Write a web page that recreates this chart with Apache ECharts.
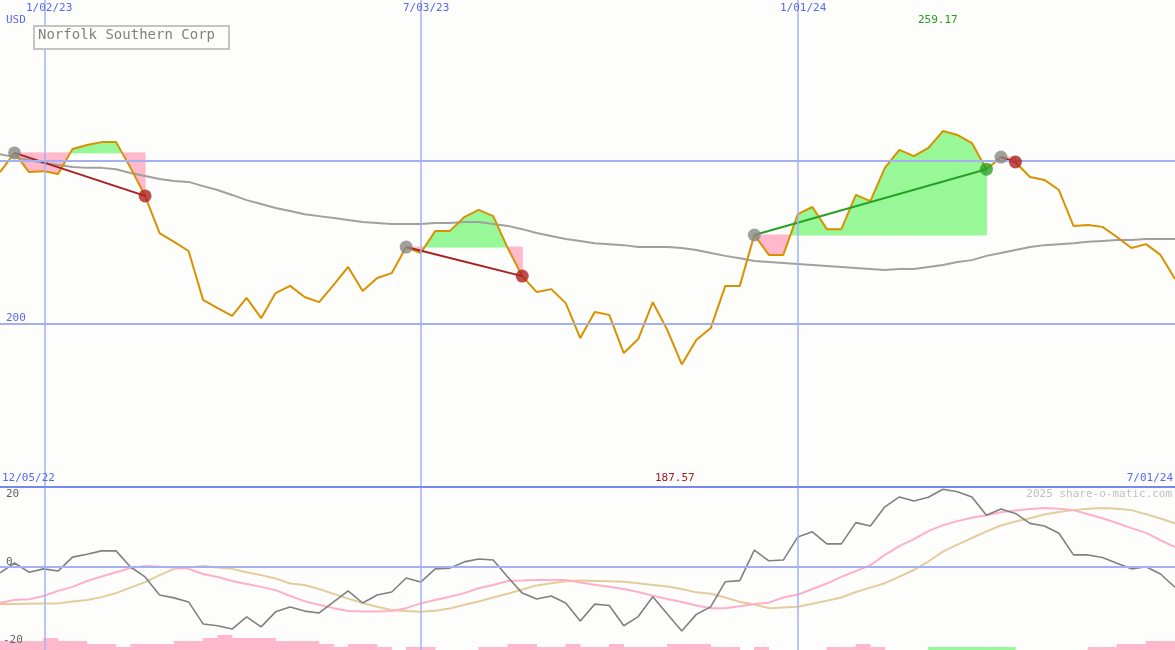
<!DOCTYPE html>
<html><head><meta charset="utf-8">
<script src="https://cdn.jsdelivr.net/npm/echarts@6/dist/echarts.min.js"></script>
<style>html,body{margin:0;padding:0;background:#fdfdfb}#c{width:1175px;height:650px}</style>
</head><body><div id="c"></div>
<script>
// weekly closes, 12/05/22 .. 7/01/24 (index 0..81)
const price = [246.6,252.5,246.6,246.9,246.0,253.7,254.9,255.8,255.8,247.9,239.3,227.9,225.2,222.4,207.4,204.9,202.5,208.0,201.8,209.5,211.7,208.3,206.7,212.0,217.5,210.1,214.1,215.6,223.6,221.8,228.5,228.5,232.8,235.0,233.1,223.3,214.7,209.8,210.7,206.4,195.7,203.7,202.8,191.1,195.4,206.7,198.2,187.6,195.1,198.8,211.7,211.7,227.3,221.2,221.2,233.7,235.9,229.1,229.1,239.6,237.7,247.9,253.4,251.5,254.0,259.2,258.0,255.5,247.5,251.2,249.7,245.1,244.2,241.1,230.1,230.4,229.8,226.7,223.3,224.5,221.2,213.8];
const movingAvg = [252.1,251.2,250.3,249.4,248.8,248.2,247.9,247.9,247.5,246.3,245.4,244.5,243.9,243.6,242.3,241.1,239.6,238.0,236.8,235.6,234.7,233.7,233.1,232.5,231.9,231.3,231.0,230.7,230.7,230.7,231.0,231.0,231.3,231.3,230.7,230.1,229.1,227.9,227.0,226.1,225.5,224.8,224.5,224.2,223.6,223.6,223.6,223.3,222.7,221.8,220.9,220.2,219.3,219.0,218.7,218.4,218.1,217.8,217.5,217.2,216.9,216.6,216.9,216.9,217.5,218.1,219.0,219.6,220.9,221.8,222.7,223.6,224.2,224.5,224.8,225.2,225.5,225.8,225.8,226.1,226.1,226.1];
const oscGray = [-1.6,1.1,-1.4,-0.5,-1.1,2.7,3.5,4.4,4.4,0,-2.7,-7.6,-8.4,-9.5,-15.5,-16,-16.9,-13.6,-16.3,-12.2,-10.9,-12,-12.5,-9.5,-6.5,-9.8,-7.6,-6.8,-3.0,-4.1,-0.5,-0.3,1.4,2.2,1.9,-2.7,-7.1,-8.7,-7.9,-9.8,-14.7,-10.1,-10.5,-16.0,-13.5,-8.1,-12.8,-17.4,-12.9,-10.8,-4.0,-3.7,4.6,1.7,1.9,8.2,9.6,6.3,6.3,12.1,11.2,16.4,19.1,18.0,19.0,21.2,20.5,19.1,14.1,15.8,14.6,11.9,11.2,9.2,3.3,3.3,2.6,1.0,-0.5,0.1,-1.9,-5.5];
const oscPink = [-9.7,-9.0,-8.8,-7.9,-6.5,-5.4,-3.8,-2.6,-1.4,-0.3,0.3,0.1,-0.1,-0.5,-1.9,-2.7,-3.8,-4.6,-5.4,-6.3,-7.9,-9.3,-10.3,-11.2,-12.0,-12.1,-12.1,-12.0,-11.2,-9.9,-9.0,-8.1,-7.1,-5.8,-4.9,-3.8,-3.7,-3.5,-3.5,-3.5,-4.2,-4.8,-5.4,-6.0,-6.8,-7.8,-8.7,-9.5,-10.5,-11.2,-11.2,-10.7,-10.1,-9.7,-8.3,-7.5,-6.0,-4.5,-2.7,-1.1,0.5,3.3,5.7,7.6,9.8,11.4,12.5,13.4,14.1,14.9,15.4,15.8,16.1,15.9,15.5,14.4,13.3,12.0,10.6,9.3,7.3,5.4];
const oscTan = [-10.1,-10.1,-10.0,-9.9,-9.9,-9.4,-9.0,-8.2,-7.1,-5.6,-4.1,-2.2,-0.5,-0.1,0.3,-0.1,-0.5,-1.4,-2.2,-3.1,-4.5,-4.9,-6.0,-7.3,-8.6,-9.8,-10.8,-11.7,-12.0,-12.2,-11.9,-11.3,-10.3,-9.4,-8.3,-7.3,-6.1,-5.0,-4.4,-3.9,-3.7,-3.8,-3.9,-4.0,-4.4,-4.9,-5.3,-6.0,-6.9,-7.3,-8.3,-9.5,-10.2,-11.2,-11.0,-10.8,-10.0,-9.2,-8.3,-6.8,-5.6,-4.4,-2.6,-0.8,1.5,4.2,6.1,7.9,9.7,11.3,12.4,13.3,14.3,15.0,15.5,15.9,16.1,15.9,15.5,14.4,13.2,11.9];
// bottom histogram (levels), bar k spans weeks k..k+1 ; colour: 1 = pink, 2 = green
const histLevel = [3,3,3,4,3,3,2,2,1,2,2,2,3,3,4,5,4,4,4,3,3,3,2,1,2,2,1,0,1,1,0,0,0,1,1,2,2,1,1,2,1,1,2,1,1,1,2,2,2,1,1,0,1,0,0,0,0,1,1,2,1,0,0,0,1,1,1,1,1,1,0,0,0,0,0,1,1,2,2,3,3];
const histColor = [1,1,1,1,1,1,1,1,1,1,1,1,1,1,1,1,1,1,1,1,1,1,1,1,1,1,1,1,1,1,1,1,1,1,1,1,1,1,1,1,1,1,1,1,1,1,1,1,1,1,1,1,1,1,1,1,1,1,1,1,1,1,1,1,2,2,2,2,2,2,1,1,1,1,1,1,1,1,1,1,1];
const tradeStart = [1,28,52,69];
const tradeEnd = [10,36,68,70];
const tradeWin = [false,false,true,false];
const dateTicks = [3.1,29,55];
const dateLabels = ['1/02/23','7/03/23','1/01/24'];

const pts = a => a.map((v, i) => [i, v]);
const fillData = [];
tradeStart.forEach((s, t) => {
  for (let i = s; i < tradeEnd[t]; i++) fillData.push([i, price[i], price[i + 1], price[s], t]);
});
const GREEN = '#98f898', PINK = '#ffb8cc';
function renderFill(params, api) {
  const i = api.value(0), p0 = api.value(1), p1 = api.value(2), b = api.value(3);
  const polys = [];
  const C = (x, y) => api.coord([x, y]);
  const d0 = p0 - b, d1 = p1 - b;
  if (d0 * d1 < 0) {
    const f = d0 / (d0 - d1), xc = i + f;
    polys.push({pts: [C(i, b), C(i, p0), C(xc, b)], c: d0 > 0 ? GREEN : PINK});
    polys.push({pts: [C(xc, b), C(i + 1, p1), C(i + 1, b)], c: d1 > 0 ? GREEN : PINK});
  } else {
    polys.push({pts: [C(i, b), C(i, p0), C(i + 1, p1), C(i + 1, b)], c: (d0 + d1) >= 0 ? GREEN : PINK});
  }
  return {type: 'group', children: polys.map(p => ({type: 'polygon', shape: {points: p.pts}, style: {fill: p.c, stroke: p.c, lineWidth: 1}}))};
}
const LS = {color: '#a4b0f0', width: 2, type: 'solid'};
const vline = {silent: true, symbol: 'none', label: {show: false}, lineStyle: LS};
const vData = dateTicks.map(x => ({xAxis: x, lineStyle: {color: '#a4b0f4', width: 1.5, type: 'solid'}}));
const series = [
  {type: 'custom', xAxisIndex: 0, yAxisIndex: 0, renderItem: renderFill, data: fillData, encode: {x: 0, y: 1}, z: 1, silent: true,
   markLine: Object.assign({}, vline, {data: vData.concat([{yAxis: 250}, {yAxis: 200}])})},
  {type: 'line', xAxisIndex: 0, yAxisIndex: 0, data: pts(movingAvg), showSymbol: false, lineStyle: {color: '#a0a0a0', width: 2}, z: 2, silent: true},
  {type: 'line', xAxisIndex: 0, yAxisIndex: 0, data: pts(price), showSymbol: false, lineStyle: {color: '#d89200', width: 2}, z: 3, silent: true},
];
tradeStart.forEach((s, t) => {
  const e = tradeEnd[t];
  series.push({type: 'line', xAxisIndex: 0, yAxisIndex: 0, data: [[s, price[s]], [e, price[e]]], showSymbol: false,
    lineStyle: {color: tradeWin[t] ? '#28a028' : '#a82020', width: 2}, z: 4, silent: true});
  series.push({type: 'scatter', xAxisIndex: 0, yAxisIndex: 0, symbolSize: 13, z: 5, silent: true,
    data: [{value: [s, price[s]], itemStyle: {color: '#888888'}}, {value: [e, price[e]], itemStyle: {color: tradeWin[t] ? '#28a028' : '#b02020'}}]});
});
series.push(
  {type: 'bar', xAxisIndex: 1, yAxisIndex: 2, barWidth: 15, silent: true,
   data: histLevel.map((v, k) => ({value: [k + 0.5, v], itemStyle: {color: histColor[k] === 2 ? GREEN : PINK}})), z: 1},
  {type: 'line', xAxisIndex: 1, yAxisIndex: 1, data: pts(oscTan), showSymbol: false, lineStyle: {color: '#e4cc9c', width: 2}, z: 2, silent: true,
   markLine: Object.assign({}, vline, {data: vData.concat([{yAxis: 0}])})},
  {type: 'line', xAxisIndex: 1, yAxisIndex: 1, data: pts(oscPink), showSymbol: false, lineStyle: {color: '#ffb0c8', width: 2}, z: 3, silent: true},
  {type: 'line', xAxisIndex: 1, yAxisIndex: 1, data: pts(oscGray), showSymbol: false, lineStyle: {color: '#808080', width: 1.6}, z: 4, silent: true}
);
const hid = {show: false};
const xa = gi => ({type: 'value', gridIndex: gi, min: 0, max: 81, axisLine: hid, axisTick: hid, axisLabel: hid, splitLine: hid});
const F = 'DejaVu Sans Mono';
const txt = (x, y, s, c, align, size) => ({type: 'text', left: align === 'right' ? undefined : x, right: align === 'right' ? x : undefined, top: y,
  style: {text: s, fill: c, font: (size || 11) + 'px "' + F + '"'}, z: 10});
const chart = echarts.init(document.getElementById('c'));
chart.setOption({
  animation: false,
  backgroundColor: '#fdfdfb',
  grid: [{left: 0, right: 0, top: 0, height: 487}, {left: 0, right: 0, top: 487, height: 163}],
  xAxis: [xa(0), xa(1)],
  yAxis: [
    {type: 'value', gridIndex: 0, min: 150, max: 299.4, axisLine: hid, axisTick: hid, axisLabel: hid, splitLine: hid},
    {type: 'value', gridIndex: 1, min: -22.6, max: 21.8, axisLine: hid, axisTick: hid, axisLabel: hid, splitLine: hid},
    {type: 'value', gridIndex: 1, min: 0, max: 54.3, axisLine: hid, axisTick: hid, axisLabel: hid, splitLine: hid}
  ],
  series: series,
  graphic: [
    {type: 'line', shape: {x1: 0, y1: 487, x2: 1175, y2: 487}, style: {stroke: '#7888ec', lineWidth: 2}, z: 9},
    {type: 'rect', left: 33, top: 25, shape: {width: 195, height: 23}, style: {fill: '#fdfdfb', stroke: '#c4c4c4', lineWidth: 2}, z: 9},
    txt(38, 28, 'Norfolk Southern Corp', '#808080', null, 14),
    txt(26, 3, dateLabels[0], '#5868f0'), txt(403, 3, dateLabels[1], '#5868f0'), txt(780, 3, dateLabels[2], '#5868f0'),
    txt(6, 15, 'USD', '#5868f0'), txt(6, 313, '200', '#5868f0'),
    txt(918, 15, '259.17', '#20a020'),
    txt(2, 473, '12/05/22', '#5868f0'), txt(655, 473, '187.57', '#a02020'), txt(2, 473, '7/01/24', '#5868f0', 'right'),
    txt(3, 489, '2025 share-o-matic.com', '#c0c0c0', 'right'),
    txt(6, 489, '20', '#606060'), txt(6, 557, '0', '#606060'), txt(3, 635, '-20', '#606060')
  ]
});
</script></body></html>
